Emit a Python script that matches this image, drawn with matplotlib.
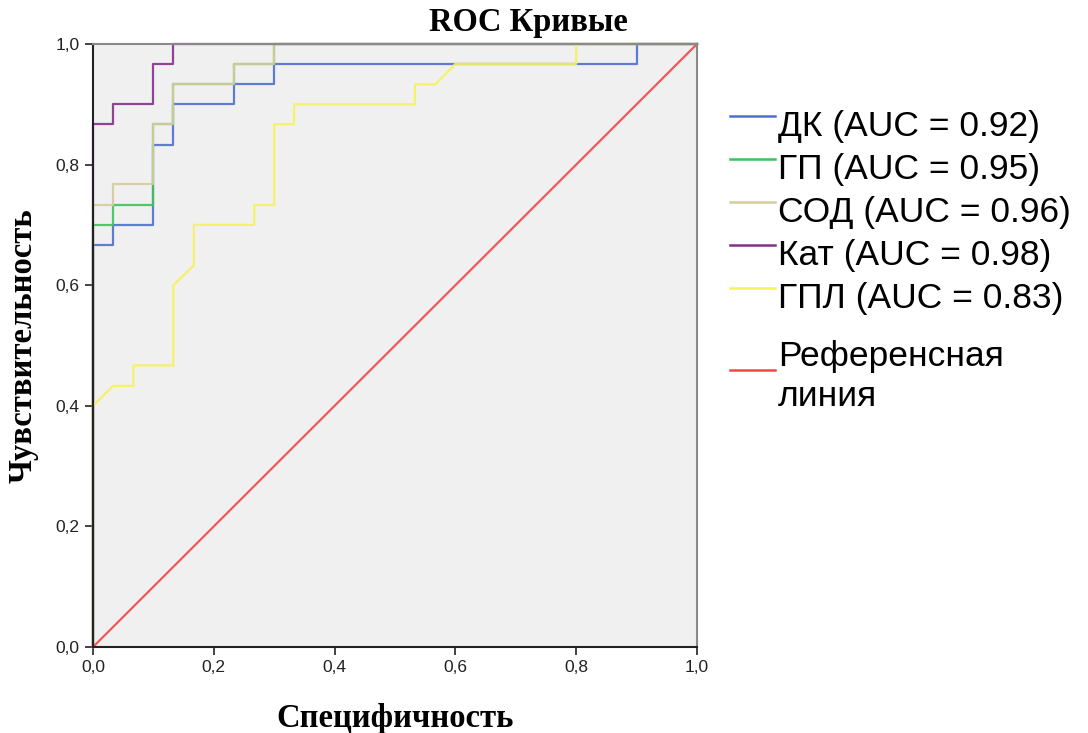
import matplotlib

matplotlib.use("Agg")
import matplotlib.pyplot as plt
from matplotlib.lines import Line2D
from matplotlib.ticker import FuncFormatter

# ROC curves (x = 1 - specificity, y = sensitivity)
dk_fpr = [0, 0, 0.033, 0.033, 0.1, 0.1, 0.133, 0.133, 0.233, 0.233, 0.3, 0.3, 0.9, 0.9, 1.0]
dk_tpr = [0, 0.667, 0.667, 0.7, 0.7, 0.833, 0.833, 0.9, 0.9, 0.933, 0.933, 0.967, 0.967, 1.0, 1.0]

gp_fpr = [0, 0, 0.033, 0.033, 0.1, 0.1, 0.133, 0.133, 0.233, 0.233, 0.3, 0.3, 1.0]
gp_tpr = [0, 0.7, 0.7, 0.733, 0.733, 0.867, 0.867, 0.933, 0.933, 0.967, 0.967, 1.0, 1.0]

sod_fpr = [0, 0, 0.033, 0.033, 0.1, 0.1, 0.133, 0.133, 0.233, 0.233, 0.3, 0.3, 1.0]
sod_tpr = [0, 0.733, 0.733, 0.767, 0.767, 0.867, 0.867, 0.933, 0.933, 0.967, 0.967, 1.0, 1.0]

kat_fpr = [0, 0, 0.033, 0.033, 0.1, 0.1, 0.133, 0.133, 1.0]
kat_tpr = [0, 0.867, 0.867, 0.9, 0.9, 0.967, 0.967, 1.0, 1.0]

gpl_fpr = [0, 0, 0.033, 0.067, 0.067, 0.133, 0.133, 0.167, 0.167, 0.267, 0.267,
           0.3, 0.3, 0.333, 0.333, 0.533, 0.533, 0.567, 0.6, 0.8, 0.8, 1.0]
gpl_tpr = [0, 0.4, 0.433, 0.433, 0.467, 0.467, 0.6, 0.633, 0.7, 0.7, 0.733,
           0.733, 0.867, 0.867, 0.9, 0.9, 0.933, 0.933, 0.967, 0.967, 1.0, 1.0]

ref_x = [0, 1]
ref_y = [0, 1]

labels = ["ДК (AUC = 0.92)", "ГП (AUC = 0.95)", "СОД (AUC = 0.96)",
          "Кат (AUC = 0.98)", "ГПЛ (AUC = 0.83)", "Референсная\nлиния"]
colors = ["#4f6fd0", "#3cc45a", "#d6cc9c", "#84308a", "#f6f25a", "#f04848"]

ticks = [0.0, 0.2, 0.4, 0.6, 0.8, 1.0]

W, H = 1088, 733
fig = plt.figure(figsize=(W / 100, H / 100), dpi=100)
ax = fig.add_axes([93 / W, 86 / H, 604 / W, 603 / H])
ax.set_facecolor("#f0f0f0")

curves = [(dk_fpr, dk_tpr), (gp_fpr, gp_tpr), (sod_fpr, sod_tpr),
          (kat_fpr, kat_tpr), (gpl_fpr, gpl_tpr), (ref_x, ref_y)]
for (xs, ys), col in zip(curves, colors):
    ax.plot(xs, ys, color=col, linewidth=1.6, alpha=0.9, clip_on=False)

ax.set_xlim(0, 1)
ax.set_ylim(0, 1)
ax.set_xticks(ticks)
ax.set_yticks(ticks)
fmt = FuncFormatter(lambda v, p: f"{v:.1f}".replace(".", ","))
ax.xaxis.set_major_formatter(fmt)
ax.yaxis.set_major_formatter(fmt)
ax.tick_params(direction="out", length=6, width=1.2, color="#222222",
               labelsize=12.5, labelcolor="#222222")
for lab in ax.get_xticklabels() + ax.get_yticklabels():
    lab.set_family("Liberation Sans")

ax.spines["left"].set_color("#222222")
ax.spines["bottom"].set_color("#222222")
ax.spines["top"].set_color("#8a8a8a")
ax.spines["right"].set_color("#8a8a8a")
for s in ax.spines.values():
    s.set_linewidth(1.5)

serif = dict(family="Liberation Serif", fontweight="bold", fontsize=23.5)
ax.set_xlabel("Специфичность", labelpad=20, **serif)
ax.set_ylabel("Чувствительность", labelpad=12, **serif)
fig.text(528 / W, 1 - 22 / H, "ROC Кривые", ha="center", va="center", **serif)

# legend drawn by hand: SPSS puts the key line near the top of each label
row_tops = [110, 153, 196, 239, 282, 340]
key_y = [116, 159, 202, 245, 288, 370]
for lab, col, top, ky in zip(labels, colors, row_tops, key_y):
    fig.add_artist(Line2D([730 / W, 775 / W], [1 - ky / H, 1 - ky / H],
                          transform=fig.transFigure, color=col, linewidth=1.8))
    fig.text(778 / W, 1 - top / H, lab, ha="left", va="top",
             family="Liberation Sans", fontsize=25.5, linespacing=1.25)

fig.savefig("out.png", dpi=100)
